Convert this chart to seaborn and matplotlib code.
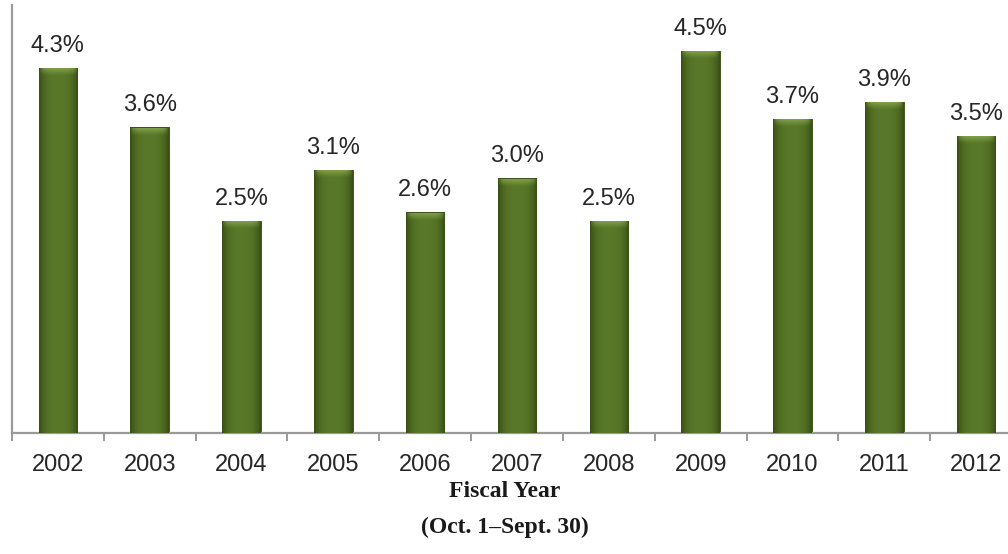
import numpy as np
import pandas as pd
import matplotlib
matplotlib.use("Agg")
import matplotlib.pyplot as plt
import seaborn as sns
from matplotlib.ticker import FixedLocator

# Annual rate by fiscal year (percent)
years = ["2002", "2003", "2004", "2005", "2006", "2007",
         "2008", "2009", "2010", "2011", "2012"]
rates = [4.3, 3.6, 2.5, 3.1, 2.6, 3.0, 2.5, 4.5, 3.7, 3.9, 3.5]

df = pd.DataFrame({"year": years, "rate": rates})

sns.set_theme(style="white")
plt.rcParams["font.family"] = ["Liberation Sans", "DejaVu Sans"]

W, H = 1008, 554
fig = plt.figure(figsize=(W / 100, H / 100), dpi=100)
ax = fig.add_axes([12 / W, 1 - 433 / H, 1010 / W, 428 / H])

base = "#4e6b20"
sns.barplot(data=df, x="year", y="rate", color=base, width=0.42,
            saturation=1, edgecolor="#34480f", linewidth=0.6, ax=ax)

# Shaded, bevelled look for each bar: darker sides, lighter rounded cap
dark = np.array([0.22, 0.31, 0.08])
mid = np.array([0.35, 0.47, 0.16])
cap = np.array([0.52, 0.64, 0.30])
for patch in ax.patches:
    x0, y0 = patch.get_x(), patch.get_y()
    w, h = patch.get_width(), patch.get_height()
    ncol, nrow = 60, max(int(h * 90), 10)
    u = np.linspace(-1, 1, ncol)
    prof = 1 - np.abs(u) ** 3
    row = dark[None, :] + (mid - dark)[None, :] * prof[:, None]
    img = np.repeat(row[None, :, :], nrow, axis=0)
    depth = np.arange(nrow) / 90.0  # distance from top in data units
    capw = np.clip(1 - depth / 0.09, 0, 1)
    edge_fade = np.clip(1 - np.abs(u) ** 6, 0, 1)
    blend = capw[:, None] * edge_fade[None, :]
    img = img + (cap - img) * blend[:, :, None]
    img[0:1, :, :] = dark
    im = ax.imshow(img, extent=(x0, x0 + w, y0, y0 + h), origin="upper",
                   aspect="auto", interpolation="bilinear", zorder=3)
    im.set_clip_path(patch)
ax.set_xlim(-0.5, len(years) - 0.5)
ax.set_ylim(0, 5.04)

# Value labels above bars
for i, v in enumerate(rates):
    ax.annotate(f"{v:.1f}%", xy=(i, v), xytext=(0, 8), textcoords="offset points",
                ha="center", va="bottom", fontsize=17, color="#262626", zorder=5)

# Axes styling
for s in ["top", "right"]:
    ax.spines[s].set_visible(False)
ax.spines["left"].set_color("#9a9a9a")
ax.spines["left"].set_linewidth(1.6)
ax.spines["bottom"].set_color("#9a9a9a")
ax.spines["bottom"].set_linewidth(1.6)
ax.set_yticks([])
ax.set_ylabel("")
ax.set_xlabel("")
ax.xaxis.set_minor_locator(FixedLocator(np.arange(-0.5, len(years), 1.0)))
ax.tick_params(axis="x", which="major", length=0, pad=15, labelsize=17,
               labelcolor="#262626")
ax.tick_params(axis="x", which="minor", bottom=True, length=6, width=1.4,
               color="#9a9a9a", direction="out")

serif = ["Liberation Serif", "DejaVu Serif"]
fig.text(505 / W, 1 - 497 / H, "Fiscal Year", ha="center", va="baseline",
         fontsize=17, fontweight="bold", family=serif, color="#1a1a1a")
fig.text(505 / W, 1 - 533 / H, "(Oct. 1\u2013Sept. 30)", ha="center", va="baseline",
         fontsize=17, fontweight="bold", family=serif, color="#1a1a1a")

fig.savefig("out.png", dpi=100, facecolor="white")
